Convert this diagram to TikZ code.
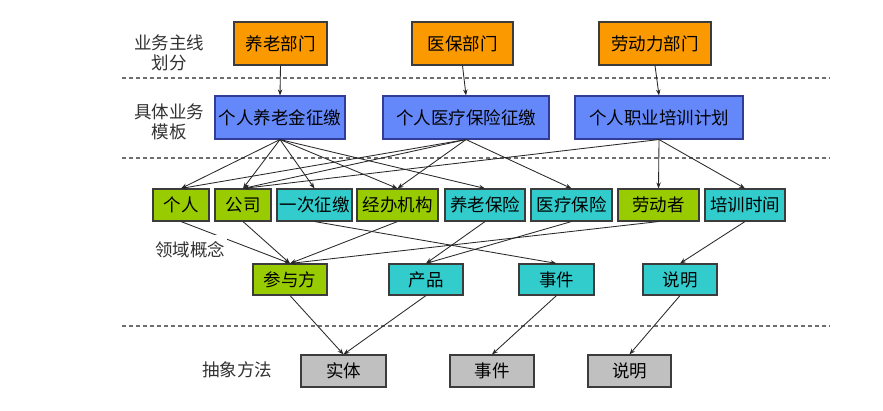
\documentclass[tikz,border=0pt]{standalone}
\usepackage{fontspec}
\newfontfamily\cjk{Noto Sans CJK SC}
\usetikzlibrary{arrows.meta}
\definecolor{orangeC}{RGB}{250,153,0}
\definecolor{blueC}{RGB}{100,136,250}
\definecolor{greenC}{RGB}{153,204,0}
\definecolor{cyanC}{RGB}{51,204,204}
\definecolor{grayC}{RGB}{192,192,192}
\definecolor{bordC}{RGB}{60,60,60}
\definecolor{blueBord}{RGB}{50,60,150}
\definecolor{lineC}{RGB}{40,40,40}
\definecolor{sepC}{RGB}{110,110,110}
\definecolor{labC}{RGB}{50,50,50}
\begin{document}
\begin{tikzpicture}[x=1pt,y=-1pt,
  every node/.style={font=\cjk\fontsize{17.5}{20}\selectfont},
  box/.style={draw=bordC, line width=1.1pt, inner sep=0pt, text=black},
  obox/.style={box, fill=orangeC, minimum height=43pt},
  bbox/.style={box, draw=blueBord, fill=blueC, minimum height=43pt},
  gbox/.style={box, fill=greenC},
  cbox/.style={box, fill=cyanC},
  rbox/.style={box, fill=grayC, minimum height=32pt},
  r3/.style={minimum height=32pt},
  r4/.style={minimum height=31pt},
  conn/.style={draw=lineC, line width=0.85pt, -{Stealth[length=6pt,width=4.5pt]}},
  sepline/.style={draw=sepC, line width=1.3pt, dash pattern=on 4pt off 3pt},
  lab/.style={text=labC, align=center}]
\useasboundingbox (0,0) rectangle (883,411);

% separators
\coordinate (s1a) at (122,78);  \coordinate (s1b) at (830,78);
\coordinate (s2a) at (122,158); \coordinate (s2b) at (830,158);
\coordinate (s3a) at (122,326); \coordinate (s3b) at (830,326);
\draw[sepline] (s1a) -- (s1b);
\draw[sepline] (s2a) -- (s2b);
\draw[sepline] (s3a) -- (s3b);

% row 1
\node[obox, minimum width=93pt]  (o1) at (280.5,43.5) {养老部门};
\node[obox, minimum width=101pt] (o2) at (462.5,43.5) {医保部门};
\node[obox, minimum width=112pt] (o3) at (655,43.5) {劳动力部门};
% row 2
\node[bbox, minimum width=130pt] (b1) at (280,117.5) {个人养老金征缴};
\node[bbox, minimum width=166pt] (b2) at (466,117.5) {个人医疗保险征缴};
\node[bbox, minimum width=168pt] (b3) at (659,117.5) {个人职业培训计划};
% row 3
\node[gbox, r3, minimum width=56pt] (c1) at (181,205) {个人};
\node[gbox, r3, minimum width=56pt] (c2) at (243,205) {公司};
\node[cbox, r3, minimum width=75pt] (c3) at (314.5,205) {一次征缴};
\node[gbox, r3, minimum width=81pt] (c4) at (397.5,205) {经办机构};
\node[cbox, r3, minimum width=80pt] (c5) at (485,205) {养老保险};
\node[cbox, r3, minimum width=81pt] (c6) at (571.5,205) {医疗保险};
\node[gbox, r3, minimum width=81pt] (c7) at (658.5,205) {劳动者};
\node[cbox, r3, minimum width=80pt] (c8) at (745,205) {培训时间};
% row 4
\node[gbox, r4, minimum width=74pt] (d1) at (290,279.5) {参与方};
\node[cbox, r4, minimum width=74pt] (d2) at (426,279.5) {产品};
\node[cbox, r4, minimum width=75pt] (d3) at (556.5,279.5) {事件};
\node[cbox, r4, minimum width=74pt] (d4) at (680,279.5) {说明};
% row 5
\node[rbox, minimum width=85pt] (e1) at (343.5,371) {实体};
\node[rbox, minimum width=84pt] (e2) at (492,371) {事件};
\node[rbox, minimum width=83pt] (e3) at (629.5,371) {说明};

% connectors row1 -> row2
\draw[conn] (o1.south) -- (b1.north);
\draw[conn] (o2.south) -- (b2.north);
\draw[conn] (o3.south) -- (b3.north);
% row2 -> row3
\draw[conn] (b1.south) -- (c1.north);
\draw[conn] (b1.south) -- (c2.north);
\draw[conn] (b1.south) -- (c3.north);
\draw[conn] (b1.south) -- (c4.north);
\draw[conn] (b1.south) -- (c5.north);
\draw[conn] (b2.south) -- (c1.north);
\draw[conn] (b2.south) -- (c2.north);
\draw[conn] (b2.south) -- (c4.north);
\draw[conn] (b2.south) -- (c6.north);
\draw[conn] (b3.south) -- (c2.north);
\draw[conn] (b3.south) -- (c7.north);
\draw[conn] (b3.south) -- (c8.north);
% row3 -> row4
\draw[conn] (c1.south) -- (d1.north);
\draw[conn] (c2.south) -- (d1.north);
\draw[conn] (c4.south) -- (d1.north);
\draw[conn] (c7.south) -- (d1.north);
\draw[conn] (c3.south) -- (d3.north);
\draw[conn] (c5.south) -- (d2.north);
\draw[conn] (c6.south) -- (d2.north);
\draw[conn] (c8.south) -- (d4.north);
% row4 -> row5
\draw[conn] (d1.south) -- (e1.north);
\draw[conn] (d2.south) -- (e1.north);
\draw[conn] (d3.south) -- (e2.north);
\draw[conn] (d4.south) -- (e3.north);

% labels
\node[lab] (l1) at (169,53) {业务主线\\划分};
\node[lab] (l2) at (169,121.5) {具体业务\\模板};
\node[lab, fill=white, inner xsep=2pt, inner ysep=7pt] (l3) at (190,250) {领域概念};
\node[lab] (l4) at (237,370) {抽象方法};
\end{tikzpicture}
\end{document}
